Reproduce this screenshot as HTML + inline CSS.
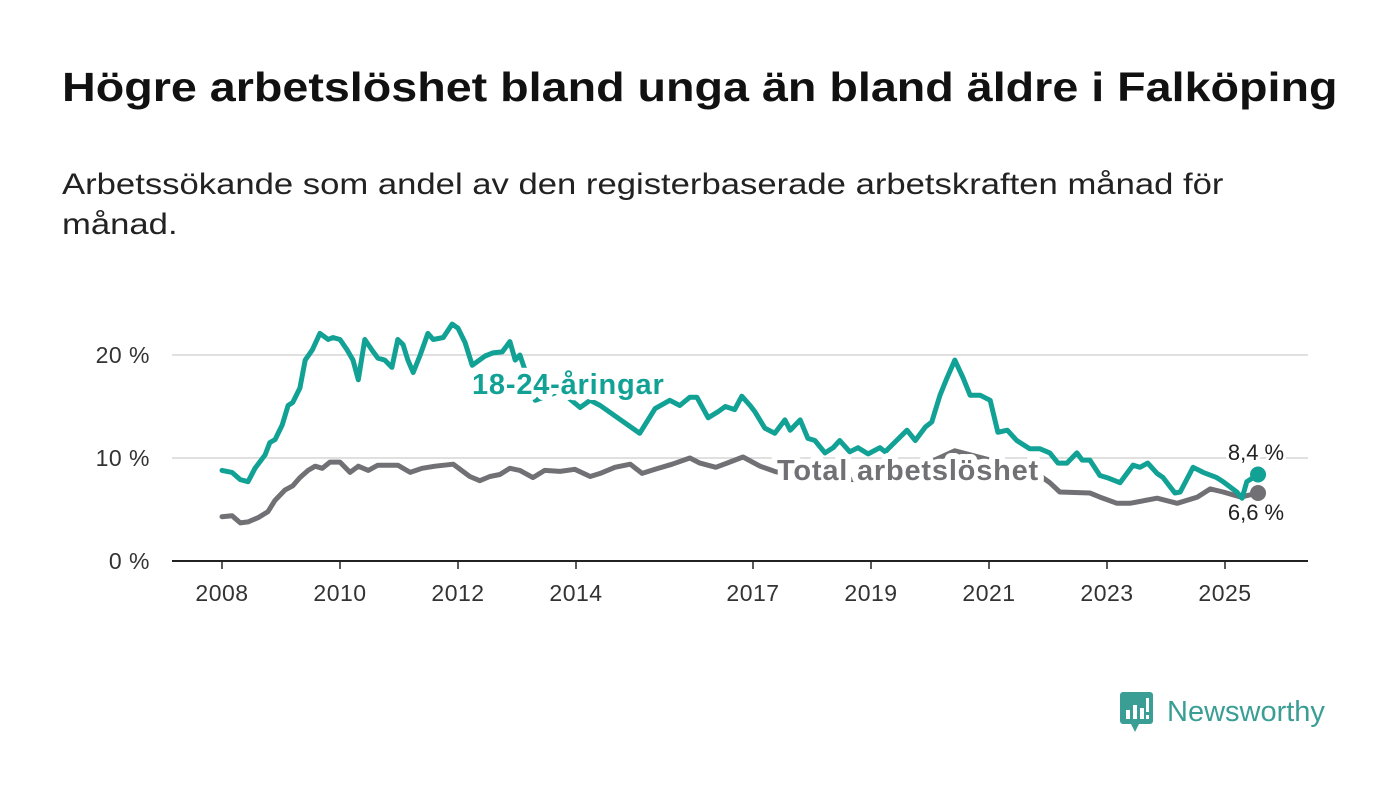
<!DOCTYPE html>
<html><head><meta charset="utf-8">
<style>
body{margin:0;background:#fff;width:1400px;height:794px;overflow:hidden;font-family:"Liberation Sans",sans-serif}
h1{position:absolute;left:62px;top:64px;margin:0;font-size:41px;font-weight:bold;color:#111;white-space:nowrap;transform:scaleX(1.138);transform-origin:0 0}
.sub{position:absolute;left:62px;top:165px;margin:0;font-size:30px;line-height:40px;color:#222;white-space:nowrap;transform:scaleX(1.155);transform-origin:0 0}
svg{position:absolute;left:0;top:0}
</style></head><body>
<h1>Högre arbetslöshet bland unga än bland äldre i Falköping</h1>
<p class="sub">Arbetssökande som andel av den registerbaserade arbetskraften månad för<br>månad.</p>
<svg id="chart" width="1400" height="794"></svg>
<div style="position:absolute;left:1119px;top:690px;display:flex;align-items:center">
<svg width="36" height="44" style="position:static"><rect x="1" y="2" width="33" height="32" rx="3" fill="#3a9e95"/><path d="M12 34 L16 42 L20 34Z" fill="#3a9e95"/><rect x="7" y="20" width="4" height="9" fill="#fff"/><rect x="14" y="15" width="4" height="14" fill="#fff"/><rect x="21" y="18" width="4" height="11" fill="#fff"/><rect x="27" y="8" width="3" height="14" fill="#fff"/><rect x="27" y="25" width="3" height="4" fill="#fff"/></svg>
<span style="font-size:29px;color:#3a9e95;margin-left:12px;font-weight:500">Newsworthy</span></div>
<script>
const youthYears=[2008.00,2008.17,2008.31,2008.44,2008.56,2008.73,2008.81,2008.90,2009.02,2009.12,2009.20,2009.32,2009.41,2009.53,2009.66,2009.80,2009.88,2010.00,2010.12,2010.22,2010.31,2010.42,2010.54,2010.64,2010.76,2010.88,2010.98,2011.07,2011.15,2011.24,2011.36,2011.49,2011.58,2011.75,2011.90,2012.00,2012.12,2012.24,2012.46,2012.59,2012.75,2012.88,2012.97,2013.05,2013.31,2013.73,2014.07,2014.24,2014.41,2015.08,2015.34,2015.59,2015.76,2015.93,2016.05,2016.24,2016.41,2016.53,2016.69,2016.81,2016.95,2017.03,2017.20,2017.37,2017.54,2017.63,2017.80,2017.93,2018.05,2018.22,2018.36,2018.47,2018.64,2018.78,2018.95,2019.15,2019.24,2019.61,2019.75,2019.92,2020.03,2020.17,2020.29,2020.42,2020.56,2020.68,2020.85,2021.02,2021.15,2021.31,2021.47,2021.69,2021.86,2022.03,2022.17,2022.32,2022.49,2022.58,2022.71,2022.88,2023.00,2023.22,2023.44,2023.56,2023.69,2023.85,2023.95,2024.15,2024.24,2024.46,2024.63,2024.86,2024.97,2025.20,2025.29,2025.37,2025.56];
const youthValues=[8.8,8.6,7.9,7.7,9.0,10.3,11.5,11.8,13.2,15.1,15.4,16.8,19.5,20.5,22.1,21.5,21.7,21.5,20.5,19.5,17.6,21.5,20.5,19.7,19.5,18.8,21.5,21.0,19.5,18.3,20.0,22.1,21.5,21.7,23.0,22.6,21.2,19.0,19.9,20.2,20.3,21.3,19.5,20.0,15.6,16.5,14.9,15.6,15.1,12.4,14.8,15.6,15.1,15.9,15.9,13.9,14.5,15.0,14.7,16.0,15.1,14.5,12.9,12.4,13.7,12.7,13.7,11.9,11.7,10.5,11.0,11.7,10.6,11.0,10.4,11.0,10.6,12.7,11.7,13.0,13.5,16.1,17.8,19.5,17.8,16.1,16.1,15.6,12.5,12.7,11.7,10.9,10.9,10.5,9.5,9.5,10.5,9.8,9.8,8.3,8.1,7.6,9.3,9.1,9.5,8.5,8.1,6.6,6.7,9.1,8.6,8.1,7.7,6.7,6.1,7.7,8.4];
const totalYears=[2008.00,2008.17,2008.31,2008.44,2008.61,2008.78,2008.90,2009.07,2009.20,2009.32,2009.46,2009.58,2009.70,2009.83,2010.00,2010.17,2010.31,2010.48,2010.64,2010.98,2011.19,2011.39,2011.61,2011.92,2012.20,2012.37,2012.54,2012.71,2012.88,2013.05,2013.27,2013.47,2013.73,2013.98,2014.24,2014.41,2014.66,2014.92,2015.12,2015.34,2015.63,2015.93,2016.10,2016.37,2016.56,2016.83,2017.12,2017.37,2017.80,2018.64,2019.49,2020.00,2020.42,2021.02,2021.69,2022.03,2022.20,2022.71,2022.88,2023.17,2023.39,2023.85,2024.19,2024.53,2024.75,2024.97,2025.27,2025.56];
const totalValues=[4.3,4.4,3.7,3.8,4.2,4.8,5.9,6.9,7.3,8.1,8.8,9.2,9.0,9.6,9.6,8.6,9.2,8.8,9.3,9.3,8.6,9.0,9.2,9.4,8.2,7.8,8.2,8.4,9.0,8.8,8.1,8.8,8.7,8.9,8.2,8.5,9.1,9.4,8.5,8.9,9.4,10.0,9.5,9.1,9.5,10.1,9.2,8.7,8.1,7.9,8.0,9.6,10.7,9.8,9.0,7.6,6.7,6.6,6.2,5.6,5.6,6.1,5.6,6.2,7.0,6.7,6.2,6.6];
const yTicks=[0,10,20];
const xTicks=[2008,2010,2012,2014,2017,2019,2021,2023,2025];
const NS="http://www.w3.org/2000/svg";
const svg=document.getElementById('chart');
const X=y=>222+(y-2008)*59;
const Y=v=>561-v*10.3;
function mk(t,a){const e=document.createElementNS(NS,t);for(const k in a)e.setAttribute(k,a[k]);svg.appendChild(e);return e;}
yTicks.forEach(t=>{
  const g=mk('line',{x1:172,x2:1308,y1:Y(t),y2:Y(t),stroke:t===0?'#222':'#d6d6d6','stroke-width':t===0?2:1.5});
  
  
  const l=mk('text',{x:150,y:Y(t)+8,'text-anchor':'end','font-size':23,'letter-spacing':'0.5',fill:'#333'});
  l.textContent=t+' %';
  
  
});
xTicks.forEach(t=>{
  const tk=mk('line',{x1:X(t),x2:X(t),y1:561,y2:569,stroke:'#222','stroke-width':1.5});
  
  
  const l=mk('text',{x:X(t),y:601,'text-anchor':'middle','font-size':23,'letter-spacing':'0.5',fill:'#333'});
  l.textContent=t;
  
  
});
function line(xs,vs,col,name){
  const p=mk('path',{d:xs.map((x,i)=>(i?'L':'M')+X(x).toFixed(1)+' '+Y(vs[i]).toFixed(1)).join(''),fill:'none',stroke:col,'stroke-width':5,'stroke-linejoin':'round','stroke-linecap':'round'});
  
  
  const n=xs.length-1;
  const c=mk('circle',{cx:X(xs[n]),cy:Y(vs[n]),r:8,fill:col});
  
  
}
line(totalYears,totalValues,'#717074','total-line');
line(youthYears,youthValues,'#11a195','youth-line');
function lab(txt,x,y,col,size,w,name,anchor,ls){
  const t=mk('text',{x:x,y:y,'font-size':size,'font-weight':w,fill:col,stroke:'#fff','stroke-width':w==='bold'?12:6,'paint-order':'stroke','stroke-linejoin':'round','text-anchor':anchor||'start','letter-spacing':ls||0});
  t.textContent=txt;
  
  
}
lab('18-24-åringar',472,394,'#11a195',29,'bold','youth-series-label','start','0.8');
lab('Total arbetslöshet',777,480,'#717074',29,'bold','total-series-label','start','0.8');
lab('8,4 %',1256,460,'#222',22,'normal','youth-last-value','middle');
lab('6,6 %',1256,520,'#222',22,'normal','total-last-value','middle');
</script>
</body></html>
